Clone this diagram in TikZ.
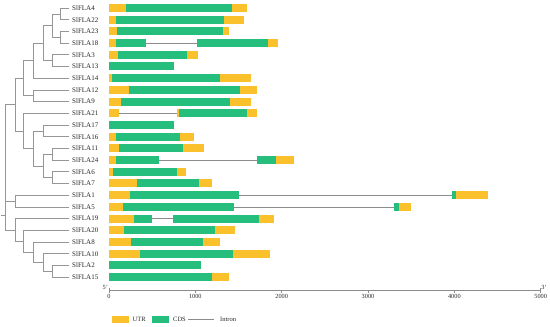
\documentclass[tikz,border=0pt]{standalone}
\usepackage{fontspec}
\setmainfont{Liberation Serif}
\definecolor{utr}{RGB}{251,193,45}
\definecolor{cds}{RGB}{38,190,124}
\definecolor{treeg}{RGB}{150,150,150}
\definecolor{intg}{RGB}{140,140,140}
\tikzset{
  branch/.style={draw=treeg, line width=0.6pt},
  lbl/.style={anchor=west, inner xsep=3pt, inner ysep=0pt, font=\fontsize{7}{8}\selectfont, text=black!85},
  intron/.style={draw=intg, line width=0.6pt},
  axisline/.style={draw=intg, line width=0.6pt},
  ticklbl/.style={inner sep=0pt, font=\fontsize{6.3}{7}\selectfont, text=black!85},
  leglbl/.style={anchor=west, inner sep=0pt, font=\fontsize{6.5}{7}\selectfont, text=black!85}
}
\begin{document}
\begin{tikzpicture}[x=1pt,y=-1pt]
\useasboundingbox (0,0) rectangle (550,327);
% labels (tree leaves)
\foreach \n [count=\r] in {4,22,23,18,3,13,14,12,9,21,17,16,11,24,6,7,1,5,19,20,8,10,2,15}
  \node[lbl] (g\n) at (69,{8+(\r-1)*11.696}) {SlFLA\n};
% internal nodes
\coordinate (a1) at (60,13.85);
\coordinate (a2) at (60,37.24);
\coordinate (a3) at (52,25.55);
\coordinate (a4) at (52,60.63);
\coordinate (a5) at (43,43.09);
\coordinate (a6) at (33,60.63);
\coordinate (a7) at (33,95.72);
\coordinate (A) at (23,78.17);
\coordinate (b1) at (43,130.81);
\coordinate (b2) at (52,154.20);
\coordinate (b3) at (52,177.59);
\coordinate (b4) at (43,165.89);
\coordinate (b5) at (33,148.35);
\coordinate (B) at (23,130.81);
\coordinate (AB) at (15,104.49);
\coordinate (c15) at (15,200.98);
\coordinate (c1) at (52,271.15);
\coordinate (c2) at (43,262.38);
\coordinate (c3) at (33,252.15);
\coordinate (c4) at (23,241.18);
\coordinate (C) at (15,229.85);
\coordinate (X) at (5,215.4);
\coordinate (R) at (1,215.4);
% branches
\draw[branch] (a1) |- (g4.west) (a1) |- (g22.west);
\draw[branch] (a2) |- (g23.west) (a2) |- (g18.west);
\draw[branch] (a3) |- (a1) (a3) |- (a2);
\draw[branch] (a4) |- (g3.west) (a4) |- (g13.west);
\draw[branch] (a5) |- (a3) (a5) |- (a4);
\draw[branch] (a6) |- (a5) (a6) |- (g14.west);
\draw[branch] (a7) |- (g12.west) (a7) |- (g9.west);
\draw[branch] (A) |- (a6) (A) |- (a7);
\draw[branch] (b1) |- (g17.west) (b1) |- (g16.west);
\draw[branch] (b2) |- (g11.west) (b2) |- (g24.west);
\draw[branch] (b3) |- (g6.west) (b3) |- (g7.west);
\draw[branch] (b4) |- (b2) (b4) |- (b3);
\draw[branch] (b5) |- (b1) (b5) |- (b4);
\draw[branch] (B) |- (g21.west) (B) |- (b5);
\draw[branch] (AB) |- (A) (AB) |- (B);
\draw[branch] (c15) |- (g1.west) (c15) |- (g5.west);
\draw[branch] (c1) |- (g2.west) (c1) |- (g15.west);
\draw[branch] (c2) |- (g10.west) (c2) |- (c1);
\draw[branch] (c3) |- (g8.west) (c3) |- (c2);
\draw[branch] (c4) |- (g20.west) (c4) |- (c3);
\draw[branch] (C) |- (g19.west) (C) |- (c4);
\draw[branch] (X) |- (AB) (X) |- (c15) (X) |- (C);
\draw[branch] (R) -- (X);
% introns
\foreach \r/\a/\b in {4/145.7/197.3, 10/119.3/177.3, 14/159/256.7, 17/238.7/451.7, 18/234.3/394.3, 19/151.7/172.7}
  \draw[intron] (\a,{8+(\r-1)*11.696}) -- (\b,{8+(\r-1)*11.696});
% UTR
\foreach \r/\a/\b in {1/109/126, 1/232.3/246.7, 2/109/116, 2/224/244.3, 3/109/117.3, 3/223.3/229.3,
  4/109/116, 4/267.7/277.7, 5/109/118.3, 5/187.3/198.3, 7/109/112.3, 7/220/251,
  8/109/129, 8/240/257.3, 9/109/121, 9/230.3/250.7, 10/109/119.3, 10/177.3/178.9, 10/247.3/257,
  12/109/116, 12/180/194.3, 13/109/119, 13/183.3/203.7, 14/109/115.7, 14/276/294,
  15/109/113.3, 15/177.3/186.3, 16/109/137.3, 16/199.3/211.7, 17/109/129.7, 17/456/488,
  18/109/123.3, 18/399.3/410.7, 19/109/134, 19/259.3/274.3, 20/109/124.3, 20/215/235.3,
  21/109/131, 21/202.7/220.3, 22/109/140.3, 22/232.7/269.7, 24/212/228.7}
  \fill[utr] (\a,{8+(\r-1)*11.696-4}) rectangle (\b,{8+(\r-1)*11.696+4});
% CDS
\foreach \r/\a/\b in {1/126/232.3, 2/116/224, 3/117.3/223.3, 4/116/145.7, 4/197.3/267.7,
  5/118.3/187.3, 6/109/174, 7/112.3/220, 8/129/240, 9/121/230.3, 10/178.7/247.3,
  11/109/174, 12/116/180, 13/119/183.3, 14/115.7/159, 14/256.7/276, 15/113.3/177.3,
  16/137.3/199.3, 17/129.7/238.7, 17/451.7/456, 18/123.3/234.3, 18/394.3/399.3,
  19/134/151.7, 19/172.7/259.3, 20/124.3/215, 21/131/202.7, 22/140.3/232.7,
  23/109/200.7, 24/109/212}
  \fill[cds] (\a,{8+(\r-1)*11.696-4}) rectangle (\b,{8+(\r-1)*11.696+4});
% axis
\coordinate (ax0) at (109,290.5);
\coordinate (ax1) at (540.7,290.5);
\draw[axisline] (ax0) -- (ax1);
\draw[axisline] (109,287.5) -- (109,293);
\draw[axisline] (540.7,287.5) -- (540.7,293);
\foreach \k/\t in {0/0,1/1000,2/2000,3/3000,4/4000,5/5000} {
  \draw[axisline] ({109+\k*86.34},290.5) -- ({109+\k*86.34},292.8);
  \node[ticklbl] (tk\k) at ({109+\k*86.34},296.8) {\t};
}
\node[ticklbl] (five) at (105.3,287) {5'};
\node[ticklbl] (three) at (544,287) {3'};
% legend
\fill[utr] (112,316) rectangle (129,322.5);
\node[leglbl] (lu) at (132.5,319.2) {UTR};
\fill[cds] (152,316) rectangle (169,322.5);
\node[leglbl] (lc) at (173,319.2) {CDS};
\coordinate (li0) at (188,319.2);
\coordinate (li1) at (214,319.2);
\draw[intron] (li0) -- (li1);
\node[leglbl] (lint) at (220,319.2) {Intron};
\end{tikzpicture}
\end{document}
